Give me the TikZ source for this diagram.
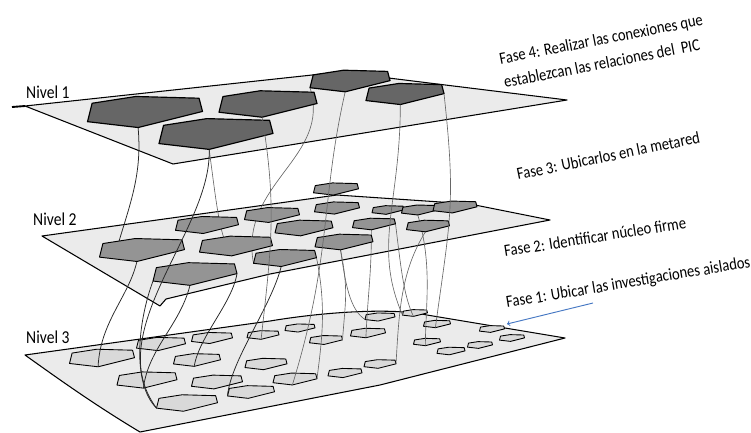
\documentclass[tikz,border=0pt]{standalone}
\usepackage{fontspec}
\setmainfont{Carlito}
\newfontfamily\labelfont{Carlito}[FakeStretch=0.86]
\usetikzlibrary{arrows}
\definecolor{planegray}{gray}{0.92}
\definecolor{topcell}{gray}{0.40}
\definecolor{midcell}{gray}{0.58}
\definecolor{lowcell}{gray}{0.85}
\definecolor{phaseblue}{RGB}{70,120,195}
\pgfdeclarelayer{back}
\pgfdeclarelayer{lowcells}
\pgfdeclarelayer{midplane}
\pgfdeclarelayer{midlinks}
\pgfdeclarelayer{midcells}
\pgfsetlayers{back,lowcells,midplane,midlinks,midcells,main}
\tikzstyle{plane} = [fill=planegray, draw=black, line width=0.9pt, line join=round]
\tikzstyle{toplevel} = [fill=topcell, draw=black, line width=1pt, line join=round]
\tikzstyle{midlevel} = [fill=midcell, draw=black, line width=0.8pt, line join=round]
\tikzstyle{lowlevel} = [fill=lowcell, draw=black, line width=0.75pt, line join=round]
\tikzstyle{link} = [draw=black!85, line width=0.65pt]
\tikzstyle{thinlink} = [draw=black!60, line width=0.55pt]
\tikzstyle{levelname} = [font=\labelfont\fontsize{15.5}{18}\selectfont, anchor=base west, inner sep=0pt]
\tikzstyle{phase} = [font=\labelfont\fontsize{14.5}{20.4}\selectfont, anchor=base west, align=left, inner sep=0pt]
\tikzset{
  cell/.pic={
    \begin{scope}[scale=#1]
      \path[pic actions] (-0.5,0.084) -- (-0.46,-0.076) -- (-0.08,-0.135) -- (0.47,-0.12) -- (0.5,-0.005) -- (-0.06,0.135) -- cycle;
      \coordinate (-b) at (-0.06,0.135);
      \coordinate (-l) at (-0.5,0.084);
      \coordinate (-r) at (0.5,-0.005);
      \coordinate (-tl) at (-0.27,-0.105);
    \end{scope}
  }
}

\begin{document}
\begin{tikzpicture}[x=0.3mm, y=-0.3mm]
    \useasboundingbox (0,0) rectangle (751,432);

    \begin{pgfonlayer}{back}
    % top plane
    \draw[line width=1.6pt] (12,107) -- (25,106);
    \draw[plane] (25,106) -- (340,72) -- (567,100) -- (173,164) -- cycle;
    % bottom plane
    \draw[plane] (25,355) -- (270,321) .. controls (330,311) and (395,308) .. (427,315) -- (565,338) -- (380,385) -- (140,432) .. controls (95,405) and (60,380) .. cycle;
    \end{pgfonlayer}

    \begin{pgfonlayer}{lowcells}
    \pic[lowlevel] (n3a) at (102,358) {cell=65};
    \pic[lowlevel] (n3b) at (161,344) {cell=49};
    \pic[lowlevel] (n3c) at (212,338) {cell=41};
    \pic[lowlevel] (n3d) at (263,335) {cell=32};
    \pic[lowlevel] (n3e) at (300,328) {cell=30};
    \pic[lowlevel] (n3f) at (197,360) {cell=47};
    \pic[lowlevel] (n3g) at (147,380) {cell=60};
    \pic[lowlevel] (n3h) at (217,382) {cell=51};
    \pic[lowlevel] (n3i) at (266,364) {cell=42};
    \pic[lowlevel] (n3j) at (187,403) {cell=61};
    \pic[lowlevel] (n3k) at (251,392) {cell=47};
    \pic[lowlevel] (n3l) at (295,379) {cell=44};
    \pic[lowlevel] (n3m) at (326,340) {cell=33};
    \pic[lowlevel] (n3n) at (345,373) {cell=34};
    \pic[lowlevel] (n3o) at (368,333) {cell=35};
    \pic[lowlevel] (n3p) at (380,317) {cell=30};
    \pic[lowlevel] (n3q) at (380,364) {cell=32};
    \pic[lowlevel] (n3r) at (415,313) {cell=25};
    \pic[lowlevel] (n3s) at (437,324) {cell=27};
    \pic[lowlevel] (n3t) at (492,329) {cell=25};
    \pic[lowlevel] (n3u) at (427,342) {cell=27};
    \pic[lowlevel] (n3v) at (451,351) {cell=28};
    \pic[lowlevel] (n3w) at (480,345) {cell=25};
    \pic[lowlevel] (n3x) at (512,338) {cell=25};
    \end{pgfonlayer}

    \begin{pgfonlayer}{midplane}
    \draw[plane] (42,236) -- (337,195) -- (470,204) -- (550,220) -- (270,274) -- (166,299) -- (160,306) -- cycle;
    \end{pgfonlayer}

    \begin{pgfonlayer}{midcells}
    \pic[midlevel] (n2a) at (142,250) {cell=85};
    \pic[midlevel] (n2b) at (195,274) {cell=84};
    \pic[midlevel] (n2c) at (207,225) {cell=63};
    \pic[midlevel] (n2d) at (236,246) {cell=73};
    \pic[midlevel] (n2e) at (272,215) {cell=55};
    \pic[midlevel] (n2f) at (304,228) {cell=58};
    \pic[midlevel] (n2g) at (285,258) {cell=63};
    \pic[midlevel] (n2h) at (344,242) {cell=58};
    \pic[midlevel] (n2i) at (336,189) {cell=45};
    \pic[midlevel] (n2j) at (337,208) {cell=45};
    \pic[midlevel] (n2k) at (374,224) {cell=43};
    \pic[midlevel] (n2l) at (388,210) {cell=32};
    \pic[midlevel] (n2m) at (420,210) {cell=37};
    \pic[midlevel] (n2n) at (455,207) {cell=44};
    \pic[midlevel] (n2o) at (428,226) {cell=43};
    \end{pgfonlayer}

    % top cells
    \pic[toplevel] (n1a) at (145,112) {cell=115};
    \pic[toplevel] (n1b) at (268,104) {cell=98};
    \pic[toplevel] (n1c) at (216,134) {cell=114};
    \pic[toplevel] (n1d) at (350,81) {cell=80};
    \pic[toplevel] (n1e) at (405,94) {cell=78};

    \begin{pgfonlayer}{midlinks}
    % from the middle cells down
    \draw[link] (n2a-b) .. controls +(-8,35) and +(2,-45) .. (n3a-b);
    \draw[link] (n2b-l) .. controls +(-15,40) and +(-25,-25) .. (n3j-l);
    \draw[link] (n2b-b) .. controls +(-10,40) and +(5,-40) .. (n3g-b);
    \draw[link] (n2b-r) .. controls +(-5,30) and +(5,-30) .. (n3f-b);
    \draw[link] (n2g-b) .. controls +(-10,40) and +(3,-35) .. (n3k-l);
    \draw[thinlink] (n2g-r) .. controls +(10,50) and +(5,-40) .. (n3l-r);
    \draw[thinlink] (n2h-b) .. controls +(5,35) and +(-15,-10) .. (n3p-l);
    \draw[thinlink] (n2h-b) .. controls +(8,40) and +(3,-40) .. (n3m-r);
    \draw[thinlink] (n2k-b) .. controls +(0,45) and +(2,-45) .. (n3o-b);
    \draw[thinlink] (n2k-r) .. controls +(5,40) and +(-10,-20) .. (n3r-b);
    \draw[thinlink] (n2o-b) .. controls +(-25,40) and +(3,-50) .. (n3q-r);
    \draw[thinlink] (n2m-b) .. controls +(15,50) and +(0,-40) .. (n3u-b);
    % from the top cells to the middle cells
    \draw[link] (n1a-b) .. controls +(4,45) and +(12,-40) .. (n2a-tl);
    \draw[thinlink] (n1c-b) .. controls +(8,60) and +(-12,-20) .. (n2d-b);
    \draw[thinlink] (n1d-l) .. controls +(22,70) and +(-15,-80) .. (n2g-l);
    \end{pgfonlayer}

    % long links from the top cells
    \draw[link] (n1c-b) .. controls +(3,81) and +(-57,-77) .. (n3j-l);
    \draw[thinlink] (n1b-b) .. controls +(15,90) and +(10,-90) .. (n3d-b);
    \draw[thinlink] (n1d-b) .. controls +(-25,110) and +(40,-130) .. (n3l-b);
    \draw[thinlink] (n1e-b) .. controls +(0,100) and +(-30,-70) .. (n3r-l);
    \draw[thinlink] (n1e-r) .. controls +(12,110) and +(15,-110) .. (n3s-b);

    \node[levelname] (niv1) at (26,98) {Nivel 1};
    \node[levelname] (niv2) at (33,225) {Nivel 2};
    \node[levelname] (niv3) at (26,343) {Nivel 3};

    \node[phase, rotate=11] (f4) at (505,88) {Fase 4: Realizar las conexiones que\\establezcan las relaciones del\ \ PIC};
    \node[phase, rotate=11.5] (f3) at (518,180) {Fase 3: Ubicarlos en la metared};
    \node[phase, rotate=9] (f2) at (505,257) {Fase 2: Identificar núcleo firme};
    \node[phase, rotate=9.5] (f1) at (507,308) {Fase 1: Ubicar las investigaciones aislados};

    \coordinate (f1from) at (593,303);
    \coordinate (f1edge) at (507,324);
    \draw[phaseblue, line width=0.8pt, ->] (f1from) -- (f1edge);

\end{tikzpicture}
\end{document}
